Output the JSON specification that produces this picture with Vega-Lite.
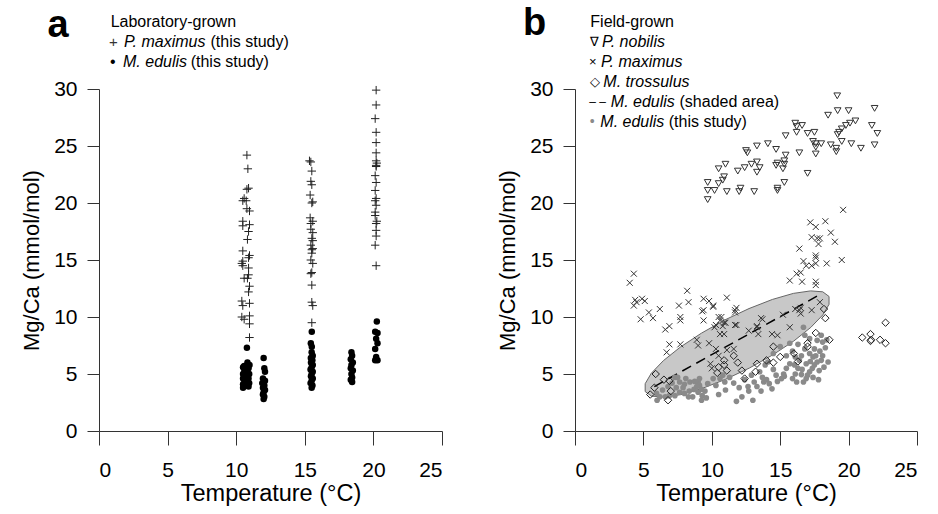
{
"$schema": "https://vega.github.io/schema/vega-lite/v6.json",
"background": "white",
"padding": {"left": 20, "top": 4, "right": 5, "bottom": 5},
"bounds": "flush",
"spacing": 133,
"config": {
 "font": "Liberation Sans",
 "view": {"stroke": null},
 "axis": {"domainColor": "#333", "tickColor": "#333", "domainWidth": 1, "tickWidth": 1, "labelFontSize": 21, "labelColor": "#000", "titleFontSize": 22, "titleFontWeight": "normal", "titleColor": "#000", "grid": false, "labelFont": "Liberation Sans", "titleFont": "Liberation Sans"},
 "axisX": {"titleFontSize": 23.5}
},
"datasets": {
 "a_pm": [
  {"T":10.78,"M":24.2},{"T":10.85,"M":23.0},{"T":10.9,"M":21.3},{"T":10.78,"M":21.2},{"T":10.58,"M":20.4},{"T":10.73,"M":20.2},{"T":10.48,"M":20.2},{"T":10.78,"M":19.5},{"T":10.97,"M":19.3},{"T":10.48,"M":18.4},{"T":10.48,"M":18.0},{"T":10.97,"M":18.1},{"T":10.9,"M":17.5},{"T":10.82,"M":16.8},{"T":10.48,"M":15.8},{"T":10.97,"M":15.4},{"T":10.9,"M":15.2},{"T":10.48,"M":14.9},{"T":10.41,"M":14.7},{"T":10.48,"M":14.5},{"T":10.9,"M":14.3},{"T":10.9,"M":13.7},{"T":10.58,"M":13.4},{"T":10.82,"M":13.4},{"T":10.97,"M":12.7},{"T":10.9,"M":12.2},{"T":10.41,"M":11.4},{"T":10.48,"M":11.0},{"T":10.97,"M":11.2},{"T":10.41,"M":10.0},{"T":10.58,"M":9.8},{"T":10.97,"M":10.1},{"T":10.97,"M":9.4},{"T":10.97,"M":8.2},
  {"T":15.34,"M":23.7},{"T":15.44,"M":23.6},{"T":15.51,"M":22.8},{"T":15.44,"M":21.9},{"T":15.51,"M":21.6},{"T":15.39,"M":20.7},{"T":15.58,"M":20.1},{"T":15.51,"M":20.0},{"T":15.39,"M":18.7},{"T":15.58,"M":18.4},{"T":15.44,"M":18.2},{"T":15.44,"M":17.7},{"T":15.58,"M":17.4},{"T":15.51,"M":16.9},{"T":15.58,"M":16.7},{"T":15.44,"M":16.3},{"T":15.58,"M":16.0},{"T":15.51,"M":15.9},{"T":15.51,"M":15.6},{"T":15.44,"M":15.0},{"T":15.58,"M":14.7},{"T":15.51,"M":13.9},{"T":15.44,"M":13.8},{"T":15.51,"M":12.8},{"T":15.51,"M":11.3},{"T":15.58,"M":11.0},{"T":15.51,"M":9.5},
  {"T":20.2,"M":29.9},{"T":20.2,"M":28.6},{"T":20.13,"M":27.4},{"T":20.2,"M":26.2},{"T":20.2,"M":25.3},{"T":20.2,"M":24.4},{"T":20.2,"M":23.7},{"T":20.25,"M":23.5},{"T":20.2,"M":23.3},{"T":20.2,"M":23.2},{"T":20.13,"M":22.4},{"T":20.2,"M":21.8},{"T":20.13,"M":21.1},{"T":20.2,"M":20.4},{"T":20.13,"M":20.2},{"T":20.2,"M":19.8},{"T":20.13,"M":19.2},{"T":20.13,"M":18.9},{"T":20.25,"M":18.4},{"T":20.2,"M":18.2},{"T":20.2,"M":17.6},{"T":20.2,"M":17.1},{"T":20.13,"M":16.3},{"T":20.2,"M":14.5}
 ],
 "a_me": [
  {"T":10.78,"M":7.3},{"T":10.82,"M":6.0},{"T":10.58,"M":5.7},{"T":10.97,"M":5.8},{"T":10.5,"M":5.6},{"T":10.9,"M":5.5},{"T":10.6,"M":5.3},{"T":10.8,"M":5.2},{"T":10.5,"M":5.0},{"T":10.95,"M":5.0},{"T":10.7,"M":4.8},{"T":10.5,"M":4.6},{"T":10.9,"M":4.6},{"T":10.6,"M":4.4},{"T":10.8,"M":4.3},{"T":10.5,"M":4.1},{"T":10.95,"M":4.2},{"T":10.7,"M":4.0},{"T":10.5,"M":3.8},{"T":10.9,"M":3.9},
  {"T":12.0,"M":6.4},{"T":12.05,"M":5.5},{"T":12.1,"M":5.2},{"T":11.95,"M":4.6},{"T":12.1,"M":4.4},{"T":11.9,"M":4.2},{"T":12.05,"M":4.0},{"T":11.95,"M":3.8},{"T":12.1,"M":3.6},{"T":12.0,"M":3.4},{"T":11.95,"M":3.2},{"T":12.05,"M":3.0},{"T":12.0,"M":2.8},
  {"T":15.51,"M":8.7},{"T":15.44,"M":7.7},{"T":15.51,"M":7.4},{"T":15.5,"M":6.9},{"T":15.58,"M":6.6},{"T":15.44,"M":6.4},{"T":15.55,"M":6.2},{"T":15.45,"M":6.0},{"T":15.58,"M":5.8},{"T":15.5,"M":5.6},{"T":15.42,"M":5.4},{"T":15.58,"M":5.2},{"T":15.5,"M":5.0},{"T":15.45,"M":4.8},{"T":15.58,"M":4.6},{"T":15.5,"M":4.4},{"T":15.42,"M":4.2},{"T":15.56,"M":4.0},{"T":15.5,"M":3.8},
  {"T":18.4,"M":6.9},{"T":18.45,"M":6.6},{"T":18.35,"M":6.3},{"T":18.5,"M":6.0},{"T":18.4,"M":5.8},{"T":18.35,"M":5.5},{"T":18.5,"M":5.3},{"T":18.4,"M":5.0},{"T":18.45,"M":4.7},{"T":18.35,"M":4.5},{"T":18.45,"M":4.3},
  {"T":20.25,"M":9.6},{"T":20.13,"M":8.7},{"T":20.3,"M":8.6},{"T":20.2,"M":8.1},{"T":20.3,"M":7.7},{"T":20.13,"M":7.2},{"T":20.2,"M":6.5},{"T":20.3,"M":6.2},{"T":20.13,"M":6.2}
 ],
 "b_pn": [
  {"T":19.17,"M":29.4},{"T":18.5,"M":27.7},{"T":19.2,"M":28.1},{"T":20.0,"M":28.1},{"T":21.9,"M":28.3},{"T":20.5,"M":27.2},{"T":20.1,"M":27.0},{"T":19.8,"M":26.8},{"T":19.5,"M":26.5},{"T":19.3,"M":26.2},{"T":19.2,"M":26.0},{"T":19.5,"M":25.4},{"T":20.2,"M":25.2},{"T":18.7,"M":25.1},{"T":19.1,"M":24.8},{"T":19.1,"M":24.5},{"T":20.9,"M":24.8},{"T":21.7,"M":26.8},{"T":22.1,"M":26.1},{"T":21.9,"M":25.1},{"T":16.1,"M":27.0},{"T":16.6,"M":26.8},{"T":16.2,"M":26.7},{"T":16.2,"M":26.2},{"T":17.0,"M":26.1},{"T":17.5,"M":26.2},{"T":17.4,"M":25.4},{"T":17.6,"M":25.2},{"T":18.0,"M":25.2},{"T":17.6,"M":24.9},{"T":17.6,"M":24.3},{"T":16.4,"M":24.4},{"T":15.4,"M":25.9},{"T":14.7,"M":24.7},{"T":15.4,"M":24.2},{"T":15.3,"M":23.7},{"T":15.3,"M":23.4},{"T":14.8,"M":23.5},{"T":14.7,"M":23.3},{"T":15.2,"M":23.0},{"T":14.1,"M":25.2},{"T":13.3,"M":25.0},{"T":12.5,"M":24.6},{"T":12.6,"M":24.4},{"T":13.3,"M":23.6},{"T":13.5,"M":23.1},{"T":13.3,"M":22.7},{"T":12.9,"M":23.4},{"T":12.4,"M":23.1},{"T":11.9,"M":22.8},{"T":11.0,"M":23.4},{"T":10.5,"M":23.0},{"T":10.9,"M":22.3},{"T":17.0,"M":22.6},{"T":15.3,"M":21.8},{"T":14.8,"M":21.3},{"T":14.8,"M":21.1},{"T":13.1,"M":21.0},{"T":12.1,"M":21.3},{"T":12.0,"M":21.0},{"T":11.1,"M":21.0},{"T":10.8,"M":22.0},{"T":10.5,"M":21.7},{"T":9.7,"M":21.8},{"T":9.7,"M":21.1},{"T":10.2,"M":21.1},{"T":9.7,"M":20.3}
 ],
 "b_pm": [
  {"T":4.3,"M":13.8},{"T":4.0,"M":13.0},{"T":4.4,"M":11.5},{"T":4.5,"M":11.3},{"T":4.9,"M":11.6},{"T":4.3,"M":11.0},{"T":5.1,"M":11.4},{"T":5.4,"M":10.4},{"T":4.8,"M":9.8},{"T":5.7,"M":9.9},{"T":6.2,"M":10.7},{"T":8.2,"M":12.3},{"T":8.3,"M":11.3},{"T":7.6,"M":11.0},{"T":7.7,"M":10.0},{"T":7.7,"M":9.7},{"T":6.9,"M":9.2},{"T":6.6,"M":8.9},{"T":9.4,"M":11.6},{"T":9.8,"M":11.4},{"T":10.1,"M":11.0},{"T":9.4,"M":10.6},{"T":11.1,"M":11.7},{"T":11.8,"M":10.8},{"T":11.7,"M":10.6},{"T":11.7,"M":10.4},{"T":9.4,"M":9.7},{"T":10.5,"M":10.0},{"T":10.6,"M":9.7},{"T":10.9,"M":9.5},{"T":11.7,"M":9.3},{"T":10.8,"M":9.2},{"T":10.2,"M":9.1},{"T":13.7,"M":9.8},{"T":13.3,"M":9.2},{"T":15.2,"M":10.2},{"T":16.4,"M":10.6},{"T":16.5,"M":10.3},{"T":17.3,"M":10.6},{"T":15.7,"M":9.1},
  {"T":17.2,"M":18.3},{"T":17.6,"M":17.9},{"T":18.3,"M":18.4},{"T":18.7,"M":17.4},{"T":17.3,"M":17.0},{"T":17.7,"M":16.9},{"T":17.9,"M":16.9},{"T":17.8,"M":16.4},{"T":19.0,"M":16.6},{"T":16.4,"M":16.0},{"T":17.6,"M":15.4},{"T":17.6,"M":15.2},{"T":16.7,"M":14.9},{"T":16.9,"M":14.5},{"T":17.3,"M":14.5},{"T":17.6,"M":14.7},{"T":18.4,"M":14.7},{"T":19.5,"M":15.0},{"T":19.6,"M":19.4},{"T":16.2,"M":13.8},{"T":16.5,"M":13.9},{"T":15.7,"M":13.2},{"T":16.6,"M":13.1},{"T":17.6,"M":13.1},{"T":17.6,"M":12.8},
  {"T":9.3,"M":10.5},{"T":10.1,"M":10.9},{"T":10.7,"M":10.0},{"T":10.3,"M":9.3},{"T":11.0,"M":9.5},{"T":11.8,"M":9.3},{"T":10.6,"M":8.5},{"T":10.9,"M":8.5},{"T":8.9,"M":8.0},{"T":7.7,"M":7.6},{"T":6.9,"M":7.6},{"T":6.7,"M":6.9},{"T":9.0,"M":7.5},{"T":9.8,"M":7.7},{"T":10.3,"M":7.2},{"T":10.5,"M":6.6},{"T":10.0,"M":5.5},{"T":9.9,"M":5.9},{"T":11.1,"M":7.1},{"T":11.6,"M":7.2},{"T":12.7,"M":8.8},{"T":13.3,"M":9.1},{"T":13.6,"M":9.9},{"T":13.4,"M":8.5},{"T":14.4,"M":8.5},{"T":14.8,"M":8.4},{"T":16.1,"M":10.7},{"T":16.5,"M":10.8},{"T":17.9,"M":11.3}
 ],
 "b_mt": [
  {"T":5.9,"M":5.0},{"T":6.5,"M":4.5},{"T":6.9,"M":4.4},{"T":5.8,"M":3.8},{"T":5.5,"M":3.2},{"T":7.0,"M":3.5},{"T":6.8,"M":2.7},{"T":10.4,"M":5.1},{"T":10.5,"M":5.6},{"T":10.9,"M":5.8},{"T":11.1,"M":5.3},{"T":10.9,"M":6.2},{"T":11.6,"M":6.6},{"T":11.9,"M":6.0},{"T":12.2,"M":5.3},{"T":12.4,"M":4.6},{"T":13.2,"M":5.2},{"T":13.3,"M":5.9},{"T":14.0,"M":6.2},{"T":14.5,"M":6.0},{"T":15.0,"M":6.5},{"T":14.5,"M":7.4},{"T":16.0,"M":6.8},{"T":17.0,"M":7.7},{"T":17.6,"M":8.6},{"T":18.6,"M":8.0},{"T":17.0,"M":7.4},{"T":16.3,"M":6.1},{"T":18.2,"M":10.7},{"T":18.3,"M":9.9},
  {"T":22.7,"M":9.5},{"T":21.0,"M":8.2},{"T":21.6,"M":8.5},{"T":21.65,"M":8.0},{"T":21.6,"M":7.9},{"T":22.3,"M":8.0},{"T":22.7,"M":7.7}
 ],
 "b_me": [
  {"T":7.3,"M":4.7},{"T":7.65,"M":4.3},{"T":8.0,"M":4.1},{"T":8.4,"M":4.3},{"T":8.75,"M":4.35},{"T":9.0,"M":4.3},{"T":9.1,"M":4.0},{"T":9.25,"M":3.65},{"T":9.3,"M":3.1},{"T":9.25,"M":2.7},{"T":9.0,"M":3.4},{"T":8.7,"M":3.65},{"T":8.35,"M":3.5},{"T":8.0,"M":3.3},{"T":7.65,"M":3.4},{"T":7.3,"M":3.1},{"T":6.9,"M":3.1},{"T":6.6,"M":3.0},{"T":6.2,"M":3.0},{"T":7.9,"M":3.8},{"T":7.4,"M":3.8},{"T":8.3,"M":3.0},{"T":8.6,"M":3.0},{"T":7.5,"M":4.7},{"T":9.1,"M":4.6},{"T":5.96,"M":3.3},
  {"T":6.4,"M":3.6},{"T":6.8,"M":3.9},{"T":7.1,"M":4.2},{"T":8.1,"M":4.6},{"T":8.9,"M":3.9},{"T":9.5,"M":3.5},{"T":9.6,"M":2.9},{"T":6.0,"M":2.7},
  {"T":10.1,"M":4.6},{"T":9.7,"M":4.15},{"T":10.3,"M":4.0},{"T":10.6,"M":4.6},{"T":10.95,"M":4.3},{"T":10.8,"M":4.9},{"T":11.3,"M":4.7},{"T":12.2,"M":3.0},{"T":12.65,"M":3.9},{"T":12.7,"M":3.5},{"T":13.0,"M":2.7},{"T":13.1,"M":4.3},{"T":13.6,"M":3.5},{"T":13.7,"M":4.7},{"T":13.8,"M":4.3},{"T":14.0,"M":4.5},{"T":14.2,"M":4.15},{"T":14.7,"M":4.9},{"T":14.8,"M":4.35},{"T":15.1,"M":4.6},{"T":13.5,"M":5.2},{"T":13.9,"M":5.8},{"T":14.1,"M":6.05},{"T":14.5,"M":6.8},{"T":15.0,"M":7.4},{"T":15.25,"M":5.0},
  {"T":12.4,"M":4.5},{"T":12.9,"M":4.9},{"T":13.3,"M":3.9},{"T":14.4,"M":3.7},{"T":14.5,"M":5.4},{"T":12.0,"M":3.8},{"T":11.6,"M":4.2},{"T":11.0,"M":3.6},{"T":10.5,"M":3.2},{"T":11.8,"M":2.6},
  {"T":15.9,"M":4.6},{"T":16.1,"M":5.0},{"T":16.3,"M":5.5},{"T":16.55,"M":4.95},{"T":16.9,"M":4.6},{"T":17.15,"M":5.2},{"T":17.35,"M":5.5},{"T":17.5,"M":5.8},{"T":17.7,"M":6.05},{"T":17.85,"M":5.3},{"T":18.0,"M":6.2},{"T":18.1,"M":6.6},{"T":17.4,"M":6.5},{"T":17.15,"M":6.8},{"T":16.8,"M":7.2},{"T":16.55,"M":6.6},{"T":16.4,"M":6.2},{"T":16.1,"M":6.5},{"T":16.05,"M":5.8},{"T":16.8,"M":8.4},{"T":17.15,"M":8.1},{"T":17.7,"M":7.95},{"T":18.0,"M":8.4},{"T":18.1,"M":7.8},{"T":17.5,"M":7.2},{"T":18.5,"M":6.05},{"T":17.4,"M":4.7},{"T":15.7,"M":5.9},{"T":15.45,"M":5.5},{"T":15.45,"M":6.6},{"T":15.9,"M":7.0},{"T":16.7,"M":9.1},
  {"T":16.2,"M":4.3},{"T":16.6,"M":5.4},{"T":16.9,"M":5.9},{"T":17.2,"M":6.1},{"T":17.6,"M":6.6},{"T":17.9,"M":7.0},{"T":18.3,"M":7.3},{"T":18.2,"M":5.6},{"T":17.0,"M":4.9},{"T":16.7,"M":4.3},{"T":17.8,"M":4.5},{"T":16.3,"M":7.6},{"T":15.7,"M":7.7},{"T":18.4,"M":8.0},{"T":15.3,"M":4.8}
 ],
 "b_ell": [
  {"i":0,"T":18.57,"M":11.8},{"i":1,"T":18.57,"M":11.11},{"i":2,"T":18.12,"M":10.19},{"i":3,"T":17.24,"M":9.09},{"i":4,"T":15.99,"M":7.89},{"i":5,"T":14.46,"M":6.68},{"i":6,"T":12.76,"M":5.53},{"i":7,"T":10.98,"M":4.52},{"i":8,"T":9.27,"M":3.72},{"i":9,"T":7.74,"M":3.19},{"i":10,"T":6.48,"M":2.97},{"i":11,"T":5.59,"M":3.06},{"i":12,"T":5.13,"M":3.46},{"i":13,"T":5.13,"M":4.15},{"i":14,"T":5.58,"M":5.07},{"i":15,"T":6.46,"M":6.17},{"i":16,"T":7.71,"M":7.37},{"i":17,"T":9.24,"M":8.58},{"i":18,"T":10.95,"M":9.74},{"i":19,"T":12.72,"M":10.74},{"i":20,"T":14.43,"M":11.54},{"i":21,"T":15.96,"M":12.07},{"i":22,"T":17.22,"M":12.29},{"i":23,"T":18.11,"M":12.21},{"i":24,"T":18.57,"M":11.8}
 ],
 "b_line": [{"T":5.8,"M":3.9},{"T":17.8,"M":11.9}],
 "one": [{"k":1}]
},
"hconcat": [
 {
  "width": 343, "height": 342,
  "layer": [
   {
    "data": {"name": "a_pm"},
    "mark": {"type": "point", "shape": "M-1,0L1,0M0,-1L0,1", "filled": false, "stroke": "#222", "strokeWidth": 1, "size": 70, "opacity": 1},
    "encoding": {
     "x": {"field": "T", "type": "quantitative", "scale": {"domain": [0, 25], "nice": false, "zero": false},
       "axis": {"title": "Temperature (°C)", "values": [0,2.5,5,7.5,10,12.5,15,17.5,20,22.5,25], "labelExpr": "datum.value % 5 === 0 ? datum.label : ''", "tickSize": {"condition": {"test": "datum.value % 5 === 0", "value": 14}, "value": 7}, "labelPadding": 14, "titlePadding": 1}},
     "y": {"field": "M", "type": "quantitative", "scale": {"domain": [0, 30], "nice": false, "zero": false},
       "axis": {"title": "Mg/Ca (mmol/mol)", "values": [0,2.5,5,7.5,10,12.5,15,17.5,20,22.5,25,27.5,30], "labelExpr": "datum.value % 5 === 0 ? datum.label : ''", "tickSize": {"condition": {"test": "datum.value % 5 === 0", "value": 12}, "value": 5}, "labelPadding": 10, "titlePadding": 10}}
    }
   },
   {
    "data": {"name": "a_me"},
    "mark": {"type": "point", "shape": "circle", "filled": true, "color": "#000", "size": 42, "opacity": 1},
    "encoding": {"x": {"field": "T", "type": "quantitative"}, "y": {"field": "M", "type": "quantitative"}}
   },
   {"data": {"name": "one"}, "mark": {"type": "text", "text": "a", "fontSize": 38, "fontWeight": "bold", "align": "left", "baseline": "alphabetic"}, "encoding": {"x": {"datum": -3.75}, "y": {"datum": 34.56}}},
   {"data": {"name": "one"}, "mark": {"type": "text", "text": "Laboratory-grown", "fontSize": 16, "align": "left", "baseline": "middle"}, "encoding": {"x": {"datum": 0.85}, "y": {"datum": 35.88}}},
   {"data": {"name": "one"}, "mark": {"type": "text", "text": "+", "fontSize": 15, "align": "center", "baseline": "middle", "color": "#333"}, "encoding": {"x": {"datum": 1.05}, "y": {"datum": 34.12}}},
   {"data": {"name": "one"}, "mark": {"type": "text", "text": "P. maximus", "fontSize": 16, "fontStyle": "italic", "align": "left", "baseline": "middle"}, "encoding": {"x": {"datum": 1.82}, "y": {"datum": 34.12}}},
   {"data": {"name": "one"}, "mark": {"type": "text", "text": "(this study)", "fontSize": 16, "align": "left", "baseline": "middle"}, "encoding": {"x": {"datum": 8.13}, "y": {"datum": 34.12}}},
   {"data": {"name": "one"}, "mark": {"type": "text", "text": "•", "fontSize": 16, "align": "center", "baseline": "middle"}, "encoding": {"x": {"datum": 1.0}, "y": {"datum": 32.37}}},
   {"data": {"name": "one"}, "mark": {"type": "text", "text": "M. edulis", "fontSize": 16, "fontStyle": "italic", "align": "left", "baseline": "middle"}, "encoding": {"x": {"datum": 1.75}, "y": {"datum": 32.37}}},
   {"data": {"name": "one"}, "mark": {"type": "text", "text": "(this study)", "fontSize": 16, "align": "left", "baseline": "middle"}, "encoding": {"x": {"datum": 6.68}, "y": {"datum": 32.37}}}
  ]
 },
 {
  "width": 342, "height": 342,
  "layer": [
   {
    "data": {"name": "b_ell"},
    "mark": {"type": "line", "fill": "#c8c8c8", "stroke": "#666", "strokeWidth": 1},
    "encoding": {
     "x": {"field": "T", "type": "quantitative", "scale": {"domain": [0, 25], "nice": false, "zero": false},
       "axis": {"title": "Temperature (°C)", "values": [0,2.5,5,7.5,10,12.5,15,17.5,20,22.5,25], "labelExpr": "datum.value % 5 === 0 ? datum.label : ''", "tickSize": {"condition": {"test": "datum.value % 5 === 0", "value": 14}, "value": 7}, "labelPadding": 14, "titlePadding": 1}},
     "y": {"field": "M", "type": "quantitative", "scale": {"domain": [0, 30], "nice": false, "zero": false},
       "axis": {"title": "Mg/Ca (mmol/mol)", "values": [0,2.5,5,7.5,10,12.5,15,17.5,20,22.5,25,27.5,30], "labelExpr": "datum.value % 5 === 0 ? datum.label : ''", "tickSize": {"condition": {"test": "datum.value % 5 === 0", "value": 12}, "value": 5}, "labelPadding": 10, "titlePadding": 10}},
     "order": {"field": "i", "type": "quantitative"}
    }
   },
   {
    "data": {"name": "b_line"},
    "mark": {"type": "line", "color": "#000", "strokeWidth": 1.5, "strokeDash": [10, 6]},
    "encoding": {"x": {"field": "T", "type": "quantitative"}, "y": {"field": "M", "type": "quantitative"}}
   },
   {
    "data": {"name": "b_me"},
    "mark": {"type": "point", "shape": "circle", "filled": true, "color": "#8a8a8a", "size": 32, "opacity": 1},
    "encoding": {"x": {"field": "T", "type": "quantitative"}, "y": {"field": "M", "type": "quantitative"}}
   },
   {
    "data": {"name": "b_pm"},
    "mark": {"type": "point", "shape": "M-1,-1L1,1M-1,1L1,-1", "filled": false, "stroke": "#333", "strokeWidth": 1, "size": 36, "opacity": 1},
    "encoding": {"x": {"field": "T", "type": "quantitative"}, "y": {"field": "M", "type": "quantitative"}}
   },
   {
    "data": {"name": "b_mt"},
    "mark": {"type": "point", "shape": "diamond", "filled": false, "stroke": "#222", "strokeWidth": 1, "size": 55, "opacity": 1},
    "encoding": {"x": {"field": "T", "type": "quantitative"}, "y": {"field": "M", "type": "quantitative"}}
   },
   {
    "data": {"name": "b_pn"},
    "mark": {"type": "point", "shape": "triangle-down", "filled": false, "stroke": "#333", "strokeWidth": 1, "size": 45, "opacity": 1},
    "encoding": {"x": {"field": "T", "type": "quantitative"}, "y": {"field": "M", "type": "quantitative"}}
   },
   {"data": {"name": "one"}, "mark": {"type": "text", "text": "b", "fontSize": 38, "fontWeight": "bold", "align": "left", "baseline": "alphabetic"}, "encoding": {"x": {"datum": -3.8}, "y": {"datum": 34.74}}},
   {"data": {"name": "one"}, "mark": {"type": "text", "text": "Field-grown", "fontSize": 16, "align": "left", "baseline": "middle"}, "encoding": {"x": {"datum": 1.12}, "y": {"datum": 35.88}}},
   {"data": {"name": "one"}, "mark": {"type": "text", "text": "∇", "fontSize": 13, "align": "center", "baseline": "middle"}, "encoding": {"x": {"datum": 1.41}, "y": {"datum": 34.12}}},
   {"data": {"name": "one"}, "mark": {"type": "text", "text": "P. nobilis", "fontSize": 16, "fontStyle": "italic", "align": "left", "baseline": "middle"}, "encoding": {"x": {"datum": 1.98}, "y": {"datum": 34.12}}},
   {"data": {"name": "one"}, "mark": {"type": "text", "text": "×", "fontSize": 13, "align": "center", "baseline": "middle"}, "encoding": {"x": {"datum": 1.3}, "y": {"datum": 32.37}}},
   {"data": {"name": "one"}, "mark": {"type": "text", "text": "P. maximus", "fontSize": 16, "fontStyle": "italic", "align": "left", "baseline": "middle"}, "encoding": {"x": {"datum": 1.9}, "y": {"datum": 32.37}}},
   {"data": {"name": "one"}, "mark": {"type": "text", "text": "◇", "fontSize": 13, "align": "center", "baseline": "middle"}, "encoding": {"x": {"datum": 1.45}, "y": {"datum": 30.61}}},
   {"data": {"name": "one"}, "mark": {"type": "text", "text": "M. trossulus", "fontSize": 16, "fontStyle": "italic", "align": "left", "baseline": "middle"}, "encoding": {"x": {"datum": 2.07}, "y": {"datum": 30.61}}},
   {"data": {"name": "one"}, "mark": {"type": "text", "text": "– –", "fontSize": 12, "align": "left", "baseline": "middle"}, "encoding": {"x": {"datum": 1.05}, "y": {"datum": 28.86}}},
   {"data": {"name": "one"}, "mark": {"type": "text", "text": "M. edulis", "fontSize": 16, "fontStyle": "italic", "align": "left", "baseline": "middle"}, "encoding": {"x": {"datum": 2.62}, "y": {"datum": 28.86}}},
   {"data": {"name": "one"}, "mark": {"type": "text", "text": "(shaded area)", "fontSize": 16, "align": "left", "baseline": "middle"}, "encoding": {"x": {"datum": 7.64}, "y": {"datum": 28.86}}},
   {"data": {"name": "one"}, "mark": {"type": "text", "text": "•", "fontSize": 14, "align": "center", "baseline": "middle", "color": "#8a8a8a"}, "encoding": {"x": {"datum": 1.26}, "y": {"datum": 27.11}}},
   {"data": {"name": "one"}, "mark": {"type": "text", "text": "M. edulis", "fontSize": 16, "fontStyle": "italic", "align": "left", "baseline": "middle"}, "encoding": {"x": {"datum": 1.85}, "y": {"datum": 27.11}}},
   {"data": {"name": "one"}, "mark": {"type": "text", "text": "(this study)", "fontSize": 16, "align": "left", "baseline": "middle"}, "encoding": {"x": {"datum": 6.85}, "y": {"datum": 27.11}}}
  ]
 }
]
}
